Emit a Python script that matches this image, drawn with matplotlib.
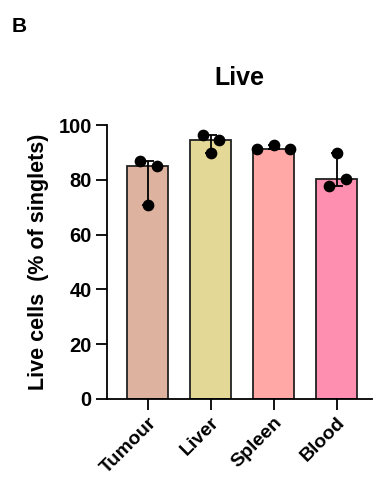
import numpy as np
import matplotlib
matplotlib.use("Agg")
import matplotlib.pyplot as plt

plt.rcParams['font.family'] = ['Liberation Sans', 'DejaVu Sans']
plt.rcParams['font.weight'] = 'bold'

# data: per-tissue replicate values (% live of singlets)
tissues = ["Tumour", "Liver", "Spleen", "Blood"]
tumour = [86.8, 84.9, 70.7]
liver = [96.4, 94.4, 89.7]
spleen = [91.1, 92.8, 91.1]
blood = [89.6, 80.4, 77.8]
colors = ["#DDB29E", "#E3D896", "#FFA8A6", "#FF8FB0"]
yticks = [0, 20, 40, 60, 80, 100]

groups = [tumour, liver, spleen, blood]
# horizontal spread of the dots within each bar
jitter = [[-0.13, 0.14, 0.0], [-0.12, 0.13, 0.0], [-0.265, 0.0, 0.265], [0.0, 0.14, -0.13]]

fig = plt.figure(figsize=(3.77, 4.8), dpi=100)
ax = fig.add_axes([107/377, 81/480, 265/377, 274/480])

x = np.arange(len(tissues))
med = [np.median(g) for g in groups]
lo = [m - min(g) for m, g in zip(med, groups)]
hi = [max(g) - m for m, g in zip(med, groups)]

ax.bar(x, med, width=0.65, color=colors, edgecolor="#222222", linewidth=1.3, zorder=1)
ax.errorbar(x, med, yerr=[lo, hi], fmt="none", ecolor="black", elinewidth=1.3,
            capsize=4.5, capthick=1.3, zorder=2)
for i, g in enumerate(groups):
    ax.scatter(x[i] + np.array(jitter[i]), g, s=55, color="black", zorder=3)

ax.set_xlim(-0.65, 3.56)
ax.set_ylim(0, 100)
ax.set_yticks(yticks)
ax.set_xticks(x)
ax.set_xticklabels(tissues, rotation=45, ha="right", rotation_mode="anchor")
ax.tick_params(axis="both", labelsize=14.5, width=1.3, length=8, pad=3)
ax.tick_params(axis="x", labelsize=14, pad=3)
for s in ["top", "right"]:
    ax.spines[s].set_visible(False)
for s in ["left", "bottom"]:
    ax.spines[s].set_linewidth(1.3)
ax.set_ylabel("Live cells  (% of singlets)", fontsize=15.5, fontweight="bold", labelpad=7)
ax.set_title("Live", fontsize=18, fontweight="bold", pad=29)
fig.text(12/377, 1 - 32/480, "B", fontsize=15, fontweight="bold")

fig.savefig("out.png", dpi=100)
